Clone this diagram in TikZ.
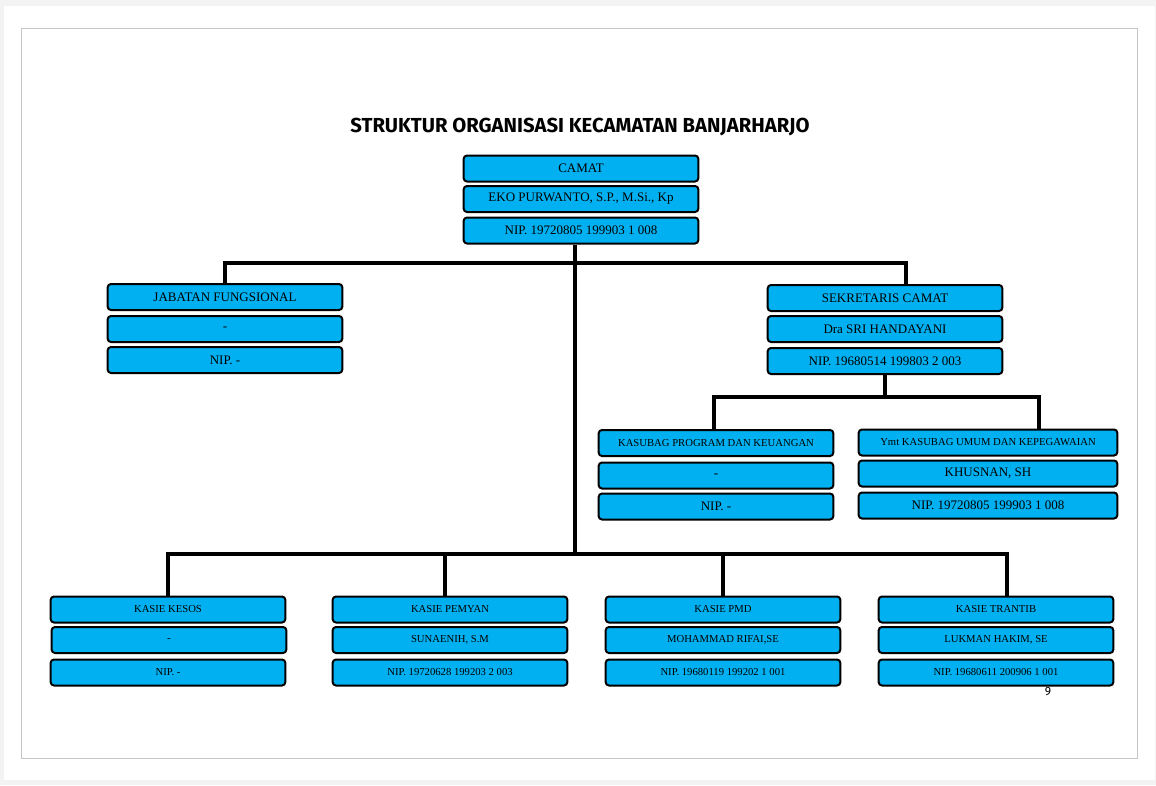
\documentclass[tikz,border=0pt]{standalone}
\usepackage{fontspec}
\setmainfont{Liberation Serif}
\newfontfamily\titlefont{Fira Sans}
\usetikzlibrary{calc}
\definecolor{boxblue}{RGB}{0,176,240}
\definecolor{pagegray}{RGB}{243,243,243}
\definecolor{framegray}{RGB}{198,198,198}
\tikzset{
	box/.style={draw=black, line width=1.5pt, fill=boxblue, rounded corners=2.5pt,
		minimum width=176pt, minimum height=19.5pt, inner sep=0pt,
		font=\fontsize{9.75}{11}\selectfont},
	wide/.style={minimum width=194pt},
	small/.style={font=\fontsize{8}{9}\selectfont},
	link/.style={line width=2.4pt},
}

\begin{document}
\begin{tikzpicture}[x=0.75pt, y=-0.75pt]
		%%%%% PAGE %%%%%
		\fill[pagegray] (0, 0) rectangle (1156, 785);
		\fill[white] (4, 6) rectangle (1155, 780);
		\draw[framegray, line width=0.9pt] (21.5, 28.5) rectangle (1137.5, 758.5);
		\useasboundingbox (0, 0) rectangle (1156, 785);
		
		\node[font=\titlefont\bfseries\fontsize{15.2}{18}\selectfont] (title) at (580, 127) {STRUKTUR ORGANISASI KECAMATAN BANJARHARJO};
		
		%%%%% CAMAT %%%%%
		\node[box] (camat1) at (581, 168.5) {CAMAT};
		\node[box] (camat2) at (581, 199) {EKO PURWANTO, S.P., M.Si., Kp};
		\node[box] (camat3) at (581, 230.5) {NIP. 19720805 199903 1 008};
		
		%%%%% JABATAN FUNGSIONAL / SEKRETARIS %%%%%
		\node[box] (jf1) at (225, 297) {JABATAN FUNGSIONAL};
		\node[box] (jf2) at (225, 329) {-};
		\node[box] (jf3) at (225, 360) {NIP. -};
		
		\node[box] (sc1) at (885, 298) {SEKRETARIS CAMAT};
		\node[box] (sc2) at (885, 329) {Dra SRI HANDAYANI};
		\node[box] (sc3) at (885, 361) {NIP. 19680514 199803 2 003};
		
		%%%%% KASUBAG %%%%%
		\node[box, small] (kpk1) at (716, 443) {KASUBAG PROGRAM DAN KEUANGAN};
		\node[box] (kpk2) at (716, 475.5) {-};
		\node[box] (kpk3) at (716, 506.5) {NIP. -};
		
		\node[box, wide, small] (ymt1) at (988, 442.5) {Ymt KASUBAG UMUM DAN KEPEGAWAIAN};
		\node[box, wide] (ymt2) at (988, 473.5) {KHUSNAN, SH};
		\node[box, wide] (ymt3) at (988, 505.5) {NIP. 19720805 199903 1 008};
		
		%%%%% KASIE %%%%%
		\node[box, small] (kesos1) at (168, 609.5) {KASIE KESOS};
		\node[box, small] (kesos2) at (169, 640) {-};
		\node[box, small] (kesos3) at (168, 672.5) {NIP. -};
		
		\node[box, small] (pemyan1) at (450, 609.5) {KASIE PEMYAN};
		\node[box, small] (pemyan2) at (450, 640) {SUNAENIH, S.M};
		\node[box, small] (pemyan3) at (450, 672.5) {NIP. 19720628 199203 2 003};
		
		\node[box, small] (pmd1) at (723, 609.5) {KASIE PMD};
		\node[box, small] (pmd2) at (723, 640) {MOHAMMAD RIFAI,SE};
		\node[box, small] (pmd3) at (723, 672.5) {NIP. 19680119 199202 1 001};
		
		\node[box, small] (trantib1) at (996, 609.5) {KASIE TRANTIB};
		\node[box, small] (trantib2) at (996, 640) {LUKMAN HAKIM, SE};
		\node[box, small] (trantib3) at (996, 672.5) {NIP. 19680611 200906 1 001};
		
		%%%%% LINES %%%%%
		\coordinate (busA) at (575, 263);
		\coordinate (busB) at (575, 554);
		\coordinate (busC) at (885, 397);
		
		\draw[link] ($(camat3.south)+(-6, 0)$) -- (busB);
		\draw[link] (jf1.north) |- (busA) -| ($(sc1.north)+(21, 0)$);
		\draw[link] (sc3.south) -- (busC);
		\draw[link] ($(kpk1.north)+(-2, 0)$) |- (busC) -| ($(ymt1.north)+(51, 0)$);
		\draw[link] (kesos1.north) |- (busB) -| ($(trantib1.north)+(11, 0)$);
		\draw[link] ($(pemyan1.north)+(-5, 0)$) |- (busB);
		\draw[link] (pmd1.north) |- (busB);
		
		\node[font=\titlefont\fontsize{9}{10}\selectfont] (page) at (1048, 692) {9};
\end{tikzpicture}
\end{document}
